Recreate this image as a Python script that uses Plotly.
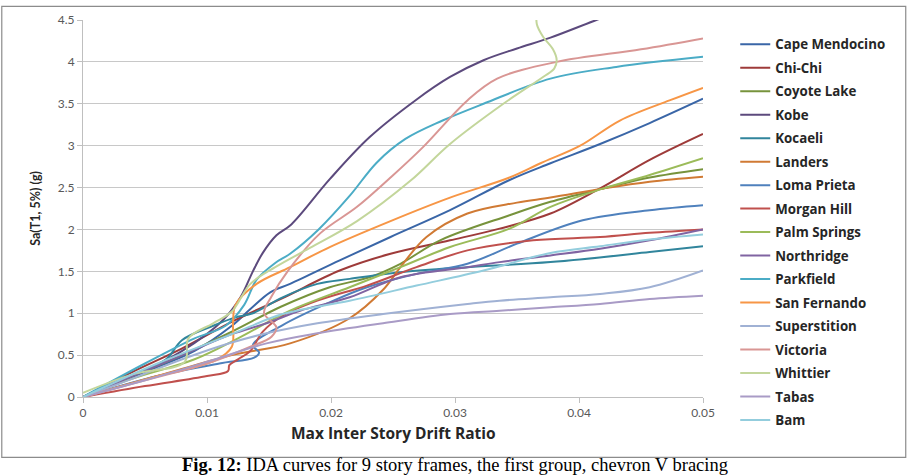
import plotly.graph_objects as go

names = ["Cape Mendocino", "Chi-Chi", "Coyote Lake", "Kobe", "Kocaeli", "Landers",
         "Loma Prieta", "Morgan Hill", "Palm Springs", "Northridge", "Parkfield",
         "San Fernando", "Superstition", "Victoria", "Whittier", "Tabas", "Bam"]

colors = ["#3A66A7", "#9E3B3A", "#77933C", "#5C4A7D", "#31859C", "#D07A34",
          "#4F81BD", "#C0504D", "#9BBB59", "#8064A2", "#4BACC6", "#F79646",
          "#A0B1D4", "#D99694", "#C3D69B", "#A99BC6", "#93CDDD"]

# drift ratio (x) and Sa(T1,5%) in g (y) for each record
cape_x = [0, 0.005, 0.009, 0.012, 0.0135, 0.0151, 0.0167, 0.0207, 0.0248, 0.0296, 0.0344, 0.0377, 0.0417, 0.0457, 0.05]
cape_y = [0, 0.3, 0.55, 0.85, 1.05, 1.25, 1.35, 1.63, 1.91, 2.23, 2.59, 2.79, 3.02, 3.27, 3.56]

chichi_x = [0, 0.004, 0.008, 0.0123, 0.0161, 0.0207, 0.0248, 0.0296, 0.0336, 0.0377, 0.0417, 0.0457, 0.05]
chichi_y = [0, 0.3, 0.58, 0.92, 1.18, 1.51, 1.71, 1.87, 2.01, 2.19, 2.49, 2.83, 3.14]

coyote_x = [0, 0.004, 0.008, 0.012, 0.016, 0.0199, 0.0231, 0.0256, 0.0288, 0.0344, 0.0377, 0.042, 0.0457, 0.05]
coyote_y = [0, 0.25, 0.5, 0.78, 1.08, 1.31, 1.43, 1.59, 1.87, 2.17, 2.33, 2.49, 2.62, 2.72]

kobe_x = [0, 0.004, 0.008, 0.0113, 0.0127, 0.0137, 0.0145, 0.0156, 0.0168, 0.0199, 0.0231, 0.0268, 0.0296, 0.0323, 0.035, 0.0377, 0.0414, 0.046]
kobe_y = [0, 0.25, 0.55, 0.92, 1.19, 1.5, 1.72, 1.93, 2.06, 2.6, 3.1, 3.54, 3.82, 4.02, 4.16, 4.29, 4.5, 4.75]

kocaeli_x = [0, 0.004, 0.0067, 0.008, 0.0105, 0.0123, 0.0137, 0.0161, 0.0189, 0.0215, 0.0256, 0.031, 0.0377, 0.0457, 0.05]
kocaeli_y = [0, 0.25, 0.45, 0.68, 0.85, 0.95, 1.0, 1.19, 1.35, 1.41, 1.49, 1.55, 1.61, 1.73, 1.8]

landers_x = [0, 0.006, 0.012, 0.0167, 0.0215, 0.0242, 0.0256, 0.0277, 0.031, 0.035, 0.0377, 0.042, 0.0457, 0.05]
landers_y = [0, 0.25, 0.5, 0.64, 0.94, 1.28, 1.55, 1.91, 2.19, 2.32, 2.38, 2.49, 2.57, 2.63]

loma_x = [0, 0.006, 0.011, 0.0138, 0.0142, 0.0137, 0.016, 0.0202, 0.0229, 0.0269, 0.031, 0.035, 0.0403, 0.0457, 0.05]
loma_y = [0, 0.25, 0.4, 0.47, 0.53, 0.62, 0.85, 1.15, 1.31, 1.47, 1.59, 1.83, 2.11, 2.23, 2.29]

morgan_x = [0, 0.005, 0.01, 0.0117, 0.0118, 0.0125, 0.0135, 0.0145, 0.0161, 0.0189, 0.0229, 0.0269, 0.031, 0.0363, 0.0417, 0.0457, 0.05]
morgan_y = [0, 0.13, 0.25, 0.31, 0.38, 0.45, 0.55, 0.78, 0.97, 1.15, 1.33, 1.55, 1.75, 1.87, 1.91, 1.96, 2.0]

palm_x = [0, 0.004, 0.009, 0.0125, 0.0167, 0.0215, 0.0256, 0.0296, 0.0344, 0.0377, 0.042, 0.0457, 0.05]
palm_y = [0, 0.22, 0.45, 0.7, 1.03, 1.31, 1.55, 1.79, 2.01, 2.27, 2.49, 2.65, 2.85]

north_x = [0, 0.004, 0.008, 0.012, 0.0148, 0.0175, 0.0215, 0.0256, 0.031, 0.0336, 0.0377, 0.0417, 0.0457, 0.05]
north_y = [0, 0.25, 0.5, 0.75, 0.88, 1.03, 1.19, 1.43, 1.55, 1.61, 1.69, 1.77, 1.87, 2.0]

park_x = [0, 0.005, 0.009, 0.0115, 0.013, 0.014, 0.0155, 0.0167, 0.019, 0.0215, 0.0237, 0.026, 0.029, 0.0323, 0.0377, 0.043, 0.05]
park_y = [0, 0.4, 0.7, 0.85, 1.1, 1.4, 1.6, 1.71, 2.0, 2.4, 2.8, 3.08, 3.3, 3.5, 3.8, 3.94, 4.06]

sanf_x = [0, 0.006, 0.0107, 0.012, 0.0121, 0.0123, 0.014, 0.0167, 0.0199, 0.0248, 0.0296, 0.0344, 0.0369, 0.0401, 0.0433, 0.0473, 0.05]
sanf_y = [0, 0.25, 0.44, 0.6, 0.9, 1.1, 1.35, 1.55, 1.79, 2.1, 2.38, 2.62, 2.79, 3.0, 3.3, 3.54, 3.69]

super_x = [0, 0.004, 0.008, 0.012, 0.0148, 0.0189, 0.0242, 0.031, 0.0336, 0.0377, 0.0417, 0.0457, 0.05]
super_y = [0, 0.22, 0.45, 0.65, 0.76, 0.88, 0.99, 1.11, 1.15, 1.19, 1.23, 1.31, 1.51]

vict_x = [0, 0.005, 0.01, 0.0135, 0.0152, 0.0156, 0.0146, 0.0152, 0.0165, 0.0191, 0.0221, 0.0248, 0.0274, 0.031, 0.0334, 0.0382, 0.045, 0.05]
vict_y = [0, 0.2, 0.4, 0.6, 0.72, 0.83, 1.0, 1.2, 1.5, 1.95, 2.27, 2.62, 2.98, 3.54, 3.8, 4.0, 4.15, 4.28]

whit_x = [0, 0.004, 0.0082, 0.0085, 0.0105, 0.012, 0.0135, 0.0155, 0.0183, 0.0221, 0.0264, 0.0296, 0.0339, 0.0371, 0.038, 0.0382, 0.0379, 0.0371, 0.0366, 0.0366]
whit_y = [0.05, 0.27, 0.42, 0.7, 0.88, 1.02, 1.35, 1.55, 1.78, 2.1, 2.58, 3.02, 3.5, 3.82, 3.92, 4.02, 4.15, 4.3, 4.45, 4.6]

tabas_x = [0, 0.005, 0.01, 0.0148, 0.0189, 0.0242, 0.0296, 0.0336, 0.0377, 0.0417, 0.0457, 0.05]
tabas_y = [0, 0.2, 0.42, 0.64, 0.76, 0.88, 0.99, 1.03, 1.07, 1.11, 1.17, 1.21]

bam_x = [0, 0.006, 0.012, 0.0161, 0.0215, 0.0269, 0.0323, 0.0377, 0.0417, 0.0457, 0.05]
bam_y = [0, 0.4, 0.75, 0.99, 1.15, 1.33, 1.51, 1.72, 1.8, 1.88, 1.94]

xs = [cape_x, chichi_x, coyote_x, kobe_x, kocaeli_x, landers_x, loma_x, morgan_x, palm_x,
      north_x, park_x, sanf_x, super_x, vict_x, whit_x, tabas_x, bam_x]
ys = [cape_y, chichi_y, coyote_y, kobe_y, kocaeli_y, landers_y, loma_y, morgan_y, palm_y,
      north_y, park_y, sanf_y, super_y, vict_y, whit_y, tabas_y, bam_y]

x_ticks = [0, 0.01, 0.02, 0.03, 0.04, 0.05]
x_ticklabels = ["0", "0.01", "0.02", "0.03", "0.04", "0.05"]
y_ticks = [0, 0.5, 1, 1.5, 2, 2.5, 3, 3.5, 4, 4.5]
y_ticklabels = ["0", "0.5", "1", "1.5", "2", "2.5", "3", "3.5", "4", "4.5"]

fig = go.Figure()
for i, (n, c, x, y) in enumerate(zip(names, colors, xs, ys)):
    fig.add_trace(go.Scatter(x=x, y=y, name=n, mode="lines", legendgroup=f"g{i}",
                             line=dict(color=c, width=2, shape="spline", smoothing=1.0)))

fig.update_layout(
    width=909, height=476,
    margin=dict(l=83, r=206, t=20, b=79),
    paper_bgcolor="white", plot_bgcolor="white",
    font=dict(family="Lato, 'Open Sans', sans-serif", color="#404040"),
    showlegend=True,
    legend=dict(x=1.052, y=0.976, xanchor="left", yanchor="top", maxheight=470,
                font=dict(size=13.3, family="Open Sans", color="#262626", weight="bold"),
                tracegroupgap=3.2, bgcolor="rgba(0,0,0,0)"),
    xaxis=dict(range=[0, 0.05], tickvals=x_ticks, ticktext=x_ticklabels,
               showgrid=False, zeroline=False, showline=True, linecolor="#BFBFBF", linewidth=1,
               ticks="outside", ticklen=5, tickcolor="#BFBFBF",
               tickfont=dict(size=12, color="#595959")),
    yaxis=dict(range=[0, 4.5], tickvals=y_ticks, ticktext=y_ticklabels,
               showgrid=True, gridcolor="#C8C8C8", gridwidth=1, zeroline=False,
               showline=True, linecolor="#BFBFBF", linewidth=1,
               ticks="outside", ticklen=5, tickcolor="#BFBFBF",
               tickfont=dict(size=12, color="#595959")),
    shapes=[dict(type="rect", xref="paper", yref="paper",
                 x0=-0.131, x1=1.327, y0=-0.16, y1=1.036,
                 line=dict(color="#8C8C8C", width=1.2), fillcolor="rgba(0,0,0,0)")],
    annotations=[
        dict(text="<b>Max Inter Story Drift Ratio</b>", xref="paper", yref="paper",
             x=0.5, y=-0.095, xanchor="center", yanchor="middle", showarrow=False,
             font=dict(size=15.5, family="Open Sans", color="#262626")),
        dict(text="<b>Sa(T1, 5%) (g)</b>", xref="paper", yref="paper",
             x=-0.077, y=0.5, xanchor="center", yanchor="middle", showarrow=False, textangle=-90,
             font=dict(size=12.5, family="Lato", color="#262626")),
        dict(text="<b>Fig. 12:</b> IDA curves for 9 story frames, the first group, chevron V bracing",
             xref="paper", yref="paper", x=0.6, y=-0.181, xanchor="center", yanchor="middle",
             showarrow=False, font=dict(size=18.5, family="Liberation Serif", color="#000000")),
    ],
)

fig.write_html("out.html")
